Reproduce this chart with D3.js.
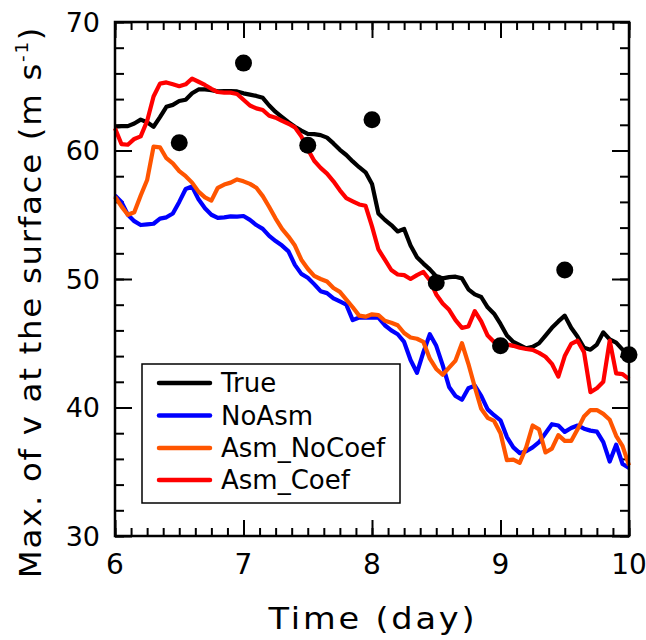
<!DOCTYPE html>
<html>
<head>
<meta charset="utf-8">
<script src="https://cdn.jsdelivr.net/npm/d3@7"></script>
<style>
  html, body { margin: 0; padding: 0; background: #fff; }
  svg { display: block; font-family: "DejaVu Sans", sans-serif; }
</style>
</head>
<body>
<svg id="chart" width="646" height="640"></svg>
<script>
// time axis: 0.05 day steps from day 6 to day 10
const days = d3.range(81).map(i => 6 + i * 0.05);

const trueVals = [
  61.85, 61.9, 61.9, 62.1, 62.4, 62.2, 61.85, 62.6, 63.4, 63.55,
  63.85, 63.95, 64.45, 64.75, 64.75, 64.7, 64.6, 64.62, 64.63, 64.6,
  64.45, 64.35, 64.25, 64.1, 63.5, 63.0, 62.6, 62.2, 61.85, 61.55,
  61.3, 61.28, 61.2, 61.0, 60.55, 60.05, 59.65, 59.15, 58.7, 58.3,
  57.4, 55.1, 54.6, 54.2, 53.7, 53.9, 52.6, 51.7, 51.2, 50.75,
  50.2, 50.05, 50.15, 50.18, 50.05, 49.2, 48.8, 48.6, 47.8, 47.3,
  46.5, 45.6, 45.1, 44.85, 44.6, 44.72, 45.0, 45.6, 46.2, 46.7,
  47.15, 46.2, 45.5, 44.65, 44.5, 44.9, 45.85, 45.3, 45.05, 44.5,
  44.45
];

const noAsm = [
  56.5, 56.0, 55.0, 54.5, 54.2, 54.25, 54.3, 54.7, 54.8, 55.1,
  56.0, 57.0, 57.2, 56.2, 55.5, 55.0, 54.75, 54.8, 54.87, 54.85,
  54.9, 54.6, 54.2, 53.9, 53.35, 52.95, 52.6, 52.15, 51.1, 50.4,
  50.1, 49.6, 49.05, 48.9, 48.5, 48.25, 48.0, 46.8, 47.0, 47.0,
  47.0, 47.0, 46.4, 46.0, 45.7, 45.1, 43.7, 42.7, 44.3, 45.7,
  44.8, 43.3, 41.6, 40.9, 40.6, 41.5, 41.7, 40.9, 39.85, 39.4,
  39.0, 37.7, 36.9, 36.45, 36.6, 36.9, 37.3, 38.0, 38.7, 38.6,
  38.1, 38.4, 38.6, 38.35, 38.2, 38.12, 37.3, 35.8, 37.1, 35.6,
  35.3
];

const asmNoCoef = [
  56.4, 55.65, 55.0, 55.2, 56.5, 57.7, 60.3, 60.25, 59.4, 59.0,
  58.4, 58.0, 57.5, 56.8, 56.35, 56.1, 57.1, 57.35, 57.5, 57.75,
  57.6, 57.4, 57.1, 56.45, 55.6, 54.7, 53.9, 53.3, 52.6, 51.5,
  50.8, 50.25, 50.0, 49.8, 49.3, 49.0, 48.4, 47.8, 47.15, 47.07,
  47.25, 47.2, 46.75, 46.6, 46.4, 45.8, 45.45, 45.35, 45.1, 43.8,
  43.0, 42.55, 43.1, 43.65, 45.0, 43.4, 41.6, 39.9, 39.2, 38.95,
  38.0, 35.9, 35.95, 35.7, 36.9, 38.6, 38.3, 36.5, 36.8, 37.85,
  37.4, 37.4, 38.3, 39.3, 39.8, 39.8, 39.5, 39.05, 37.8, 37.0,
  35.5
];

const asmCoef = [
  61.73, 60.5, 60.45, 60.9, 61.1, 62.3, 64.2, 65.2, 65.3, 65.15,
  65.0, 65.15, 65.6, 65.35, 65.1, 64.8, 64.55, 64.5, 64.5, 64.4,
  63.95, 63.5, 63.28, 63.15, 62.7, 62.55, 62.3, 62.08, 61.8, 61.1,
  60.1, 59.2, 58.65, 58.2, 57.6, 56.9, 56.3, 56.05, 55.8, 55.7,
  54.1, 52.3, 51.5, 50.7, 50.35, 50.3, 50.0, 50.3, 50.55, 49.9,
  48.8, 48.1, 47.6, 46.8, 46.2, 46.3, 47.5, 46.7, 45.6, 45.1,
  44.95, 44.9, 44.8, 44.65, 44.55, 44.48, 44.25, 43.95, 43.4, 42.4,
  44.0, 44.95, 45.2, 44.3, 41.2, 41.5, 42.0, 45.2, 42.65, 42.6,
  42.2
];

// observations (black dots)
const obsDays = [6.5, 7, 7.5, 8, 8.5, 9, 9.5, 10];
const obsVals = [60.6, 66.8, 60.4, 62.4, 49.7, 44.8, 50.7, 44.1];

const seriesNames = ["True", "NoAsm", "Asm_NoCoef", "Asm_Coef"];
const seriesColors = ["#000000", "#0000ff", "#ff5500", "#ff0000"];
const seriesVals = [trueVals, noAsm, asmNoCoef, asmCoef];

const xTicks = [6, 7, 8, 9, 10];
const yTicks = [30, 40, 50, 60, 70];

const svg = d3.select("#chart");
const plotL = 115, plotR = 629, plotT = 22, plotB = 536;

const x = d3.scaleLinear().domain([6, 10]).range([plotL, plotR]);
const y = d3.scaleLinear().domain([30, 70]).range([plotB, plotT]);

const minorX = d3.range(6, 10.001, 0.125);
const minorY = d3.range(30, 70.001, 2);

// ticks (inward, on all four sides)
function tickAxis(axis, vals, size, tx) {
  const g = svg.append("g")
    .attr("transform", tx)
    .call(axis.tickValues(vals).tickSize(size).tickFormat(""));
  g.select(".domain").remove();
  g.selectAll("line").attr("stroke", "#000").attr("stroke-width", 2);
  return g;
}
tickAxis(d3.axisBottom(x), minorX, -8, `translate(0,${plotB})`);
tickAxis(d3.axisBottom(x), xTicks, -16, `translate(0,${plotB})`);
tickAxis(d3.axisTop(x), minorX, -8, `translate(0,${plotT})`);
tickAxis(d3.axisTop(x), xTicks, -16, `translate(0,${plotT})`);
tickAxis(d3.axisLeft(y), minorY, -9, `translate(${plotL},0)`);
tickAxis(d3.axisLeft(y), yTicks, -17, `translate(${plotL},0)`);
tickAxis(d3.axisRight(y), minorY, -9, `translate(${plotR},0)`);
tickAxis(d3.axisRight(y), yTicks, -17, `translate(${plotR},0)`);

// tick labels
svg.append("g").selectAll("text").data(xTicks).join("text")
  .attr("x", d => x(d))
  .attr("y", 574)
  .attr("text-anchor", "middle")
  .attr("font-size", 28)
  .text(d => d);

svg.append("g").selectAll("text").data(yTicks).join("text")
  .attr("x", plotL - 15)
  .attr("y", d => y(d))
  .attr("dy", "0.36em")
  .attr("text-anchor", "end")
  .attr("font-size", 27)
  .text(d => d);

// axis titles: the original font is wide and airy
svg.append("text")
  .attr("transform", "translate(373,629) scale(1.12,1)")
  .attr("text-anchor", "middle")
  .attr("font-size", 30)
  .attr("letter-spacing", 2.5)
  .text("Time (day)");

const yTitle = svg.append("text")
  .attr("transform", "translate(41,302) rotate(-90) scale(1.08,1)")
  .attr("text-anchor", "middle")
  .attr("font-size", 30)
  .attr("letter-spacing", 1.6);
yTitle.append("tspan").text("Max. of v at the surface (m s");
yTitle.append("tspan").attr("font-size", 17).attr("dy", -13).text("-1");
yTitle.append("tspan").attr("dy", 13).text(")");

// lines
const line = d3.line()
  .x((d, i) => x(days[i]))
  .y(d => y(d));

seriesVals.forEach((vals, i) => {
  svg.append("path")
    .datum(vals)
    .attr("fill", "none")
    .attr("stroke", seriesColors[i])
    .attr("stroke-width", 4.2)
    .attr("stroke-linejoin", "round")
    .attr("d", line);
});

// observation dots
svg.append("g").selectAll("circle").data(obsDays).join("circle")
  .attr("cx", d => x(d))
  .attr("cy", (d, i) => y(obsVals[i]))
  .attr("r", 8.5)
  .attr("fill", "#000");

// frame
svg.append("rect")
  .attr("x", plotL).attr("y", plotT)
  .attr("width", plotR - plotL).attr("height", plotB - plotT)
  .attr("fill", "none")
  .attr("stroke", "#000")
  .attr("stroke-width", 2.5);

// legend
const legend = svg.append("g");
legend.append("rect")
  .attr("x", 142).attr("y", 364)
  .attr("width", 258).attr("height", 139)
  .attr("fill", "#fff")
  .attr("stroke", "#000")
  .attr("stroke-width", 1.5);

const rowY = [383, 415.5, 448, 480];
seriesNames.forEach((name, i) => {
  legend.append("line")
    .attr("x1", 159).attr("x2", 210)
    .attr("y1", rowY[i]).attr("y2", rowY[i])
    .attr("stroke", seriesColors[i])
    .attr("stroke-width", 4.5)
    .attr("stroke-linecap", "round");
  legend.append("text")
    .attr("x", 221)
    .attr("y", rowY[i])
    .attr("dy", "0.36em")
    .attr("font-size", 26)
    .text(name);
});
</script>
</body>
</html>
